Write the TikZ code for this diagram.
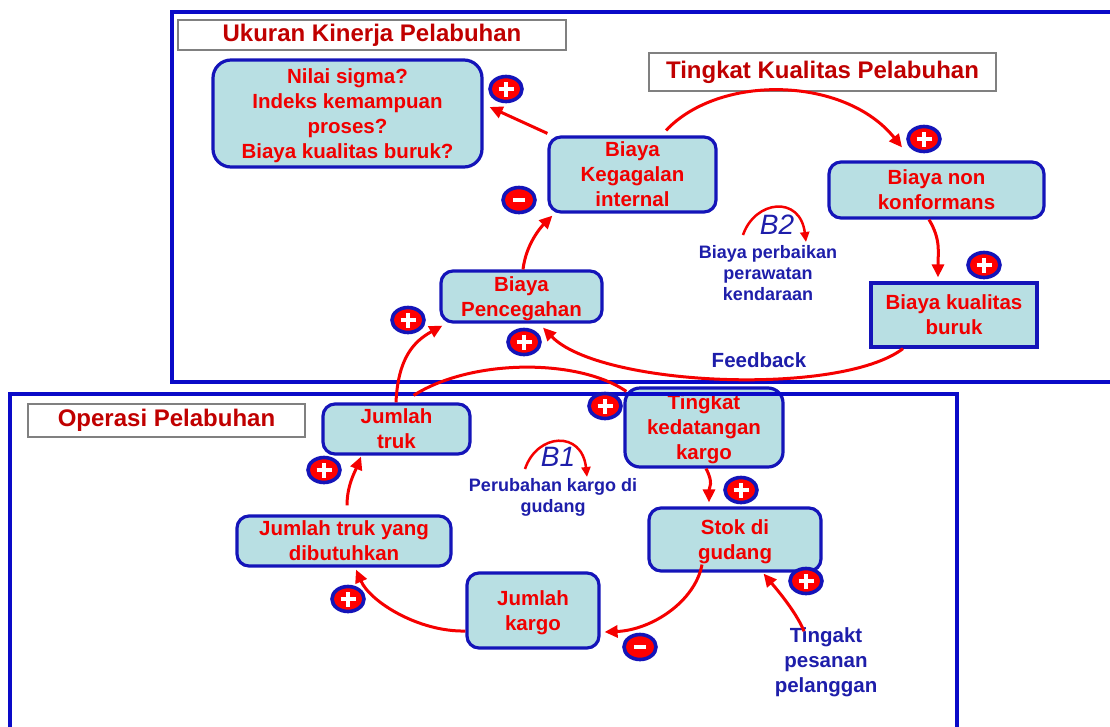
\documentclass[tikz,border=0pt]{standalone}
\usepackage{fontspec}
\setmainfont{Liberation Sans}
\usetikzlibrary{arrows.meta,shapes.geometric}
\definecolor{nodeblue}{RGB}{20,20,185}
\definecolor{framblue}{RGB}{10,10,200}
\definecolor{fillblue}{RGB}{184,223,227}
\definecolor{txtred}{RGB}{240,0,0}
\definecolor{titlered}{RGB}{192,0,0}
\definecolor{txtblue}{RGB}{30,30,170}
\definecolor{arrred}{RGB}{245,0,0}
\begin{document}
\begin{tikzpicture}[x=1pt,y=-1pt,
  box/.style={draw=nodeblue, line width=3.2pt, fill=fillblue, rounded corners=12pt, text=txtred,
    font=\fontsize{20.5}{25}\selectfont\bfseries, align=center, inner sep=0pt, text depth=0pt},
  ttl/.style={draw=gray, line width=1.2pt, fill=white, text=titlered,
    font=\fontsize{24}{28}\selectfont\bfseries, inner sep=0pt},
  note/.style={text=txtblue, font=\fontsize{18}{21}\selectfont\bfseries, align=center, inner sep=0pt},
  bignote/.style={text=txtblue, font=\fontsize{20.5}{25}\selectfont\bfseries, align=center, inner sep=0pt},
  loopl/.style={text=txtblue, font=\fontsize{28}{30}\selectfont\itshape, inner sep=0pt},
  frm/.style={draw=framblue, line width=3.2pt},
  arr/.style={draw=arrred, line width=3pt, -{Triangle[length=13pt,width=12pt]}},
  conn/.style={draw=arrred, line width=3pt},
  looparr/.style={draw=arrred, line width=2.5pt, -{Triangle[length=10pt,width=9pt]}},
  sgn/.style={ellipse, draw=nodeblue, fill=red, line width=3.6pt, minimum width=32pt, minimum height=25pt, inner sep=0pt},
  pmark/.style={sgn, path picture={\draw[white,line width=4.2pt]
      ([xshift=-7.5pt]path picture bounding box.center) -- ([xshift=7.5pt]path picture bounding box.center)
      ([yshift=-7.5pt]path picture bounding box.center) -- ([yshift=7.5pt]path picture bounding box.center);}},
  mmark/.style={sgn, path picture={\draw[white,line width=4.2pt]
      ([xshift=-6pt]path picture bounding box.center) -- ([xshift=6pt]path picture bounding box.center);}}
]
\useasboundingbox (0,0) rectangle (1110,726);
\clip (0,0) rectangle (1110,726);
\fill[white] (0,0) rectangle (1110,726);

% title boxes
\node[ttl, minimum width=388pt, minimum height=30pt] (t1) at (372,35) {Ukuran Kinerja Pelabuhan};
\node[ttl, minimum width=347pt, minimum height=38pt] (t2) at (822.5,72) {Tingkat Kualitas Pelabuhan};
\node[ttl, minimum width=277pt, minimum height=33pt] (t3) at (166.5,420.5) {Operasi Pelabuhan};

% nodes
\node[box, rounded corners=18pt, minimum width=269pt, minimum height=107pt] (n1) at (347.5,113.5)
  {Nilai sigma?\\Indeks kemampuan\\proses?\\Biaya kualitas buruk?};
\node[box, minimum width=167pt, minimum height=75pt] (kg) at (632.5,174.5) {Biaya\\Kegagalan\\internal};
\node[box, minimum width=215pt, minimum height=56pt] (nk) at (936.5,190) {Biaya non\\konformans};
\node[box, sharp corners, minimum width=166pt, minimum height=64pt] (kb) at (954,315) {Biaya kualitas\\buruk};
\node[box, minimum width=161pt, minimum height=51pt] (pc) at (521.5,296.5) {Biaya\\Pencegahan};
\node[box, minimum width=147pt, minimum height=50pt] (jt) at (396.5,429) {Jumlah\\truk};
\node[box, rounded corners=15pt, minimum width=158pt, minimum height=79pt] (tk) at (704,427.5) {Tingkat\\kedatangan\\kargo};
\node[box, minimum width=214pt, minimum height=50pt] (jd) at (344,541) {Jumlah truk yang\\dibutuhkan};
\node[box, minimum width=172pt, minimum height=63pt] (sg) at (735,539.5) {Stok di\\gudang};
\node[box, minimum width=132pt, minimum height=75pt] (jk) at (533,610.5) {Jumlah\\kargo};

% frames
\draw[frm] (172,12) rectangle (1125,382);
\draw[frm] (10,394) rectangle (957,740);

% free texts
\node[note] (bp) at (768,273) {Biaya perbaikan\\perawatan\\kendaraan};
\node[note] (pk) at (553,497.5) {Perubahan kargo di\\gudang};
\node[bignote] (fb) at (759,360) {Feedback};
\node[bignote] (tp) at (826,662) {Tingakt\\pesanan\\pelanggan};
\node[loopl] (b2) at (777,225) {B2};
\node[loopl] (b1) at (558,457) {B1};

% loop arcs
\coordinate (b2s) at (743,235);
\coordinate (b2e) at (806,242);
\draw[looparr] (b2s) .. controls (755,200) and (800,195) .. (b2e);
\coordinate (b1s) at (525,469);
\coordinate (b1e) at (587,477);
\draw[looparr] (b1s) .. controls (537,433) and (582,430) .. (b1e);

% connectors
\draw[arr] ([shift={(0,-2)}]kg.north west) -- ([shift={(6,-6.5)}]n1.east);
\draw[arr] ([shift={(33.5,-5)}]kg.north) .. controls +(54,-57) and +(-57,-71) .. ([shift={(-34.5,-13)}]nk.north);
\draw[arr] ([shift={(-7.5,0)}]nk.south) .. controls +(12,20) and +(0,-25) .. ([shift={(-16,-4)}]kb.north);
\draw[arr] ([shift={(-51,0)}]kb.south) .. controls +(-63,48) and +(57,59) .. ([shift={(21.5,4)}]pc.south);
\draw[arr] ([shift={(1.5,0)}]pc.north) .. controls +(3,-25) and +(-12,12) .. ([shift={(5,2)}]kg.south west);
\draw[arr] ([shift={(-0.5,0)}]jt.north) .. controls +(2,-44) and +(-29,16) .. ([shift={(3,2)}]pc.south west);
\draw[conn] ([shift={(3,5)}]tk.north west) .. controls +(-48,-33) and +(58,-37) .. ([shift={(-58,-7)}]jt.north east);
\draw[arr] ([shift={(2,0)}]tk.south) .. controls +(8,15) and +(0,-15) .. ([shift={(-26,-4)}]sg.north);
\draw[arr] ([shift={(-33,-8)}]sg.south) .. controls +(-7,37) and +(47,-2) .. ([shift={(4,21.5)}]jk.east);
\draw[arr] ([shift={(0,20.5)}]jk.west) .. controls +(-47,1) and +(14,32) .. ([shift={(12,2)}]jd.south);
\draw[arr] ([shift={(3,-9)}]jd.north) .. controls +(0,-20) and +(-6,15) .. ([shift={(-35.5,1)}]jt.south);
\draw[arr] ([shift={(-22,4)}]tp.north) .. controls +(-8,-20) and +(10,12) .. ([shift={(-59,1)}]sg.south east);

% polarity markers
\node[pmark] (m1) at (506,89) {};
\node[mmark] (m2) at (519,200) {};
\node[pmark] (m3) at (924,139) {};
\node[pmark] (m4) at (984,265) {};
\node[pmark] (m5) at (408,320) {};
\node[pmark] (m6) at (524,342) {};
\node[pmark] (m7) at (605,406) {};
\node[pmark] (m8) at (324,470) {};
\node[pmark] (m9) at (741,490) {};
\node[pmark] (m10) at (806,581) {};
\node[pmark] (m11) at (348,599) {};
\node[mmark] (m12) at (640,647) {};
\end{tikzpicture}
\end{document}
